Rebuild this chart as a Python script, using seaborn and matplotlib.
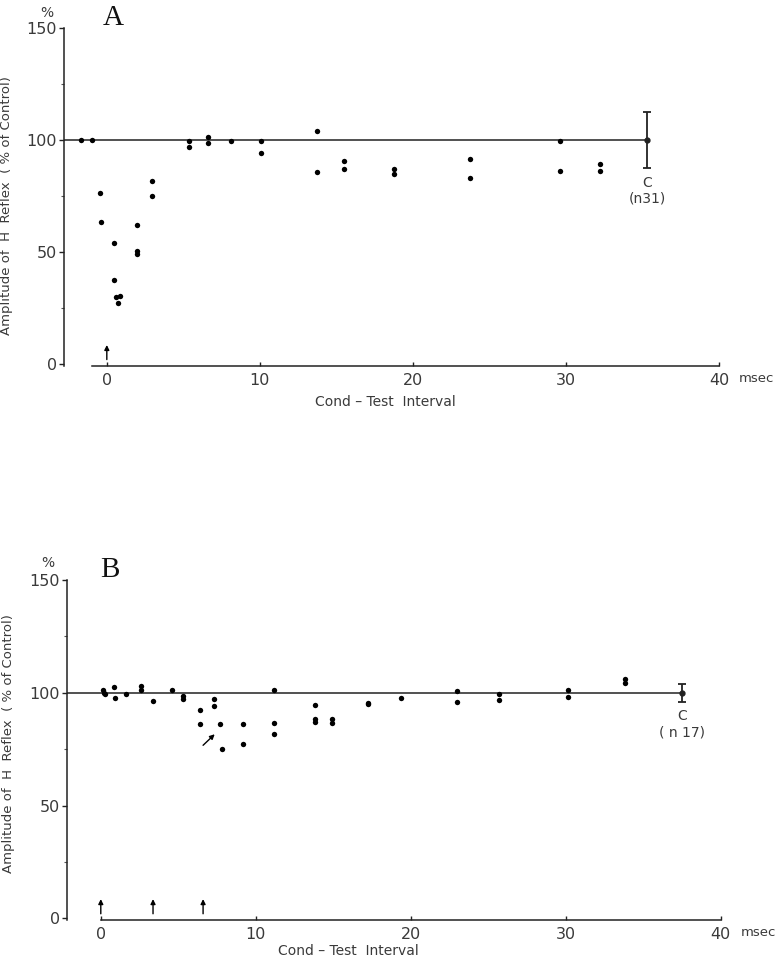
import seaborn as sns
import matplotlib.pyplot as plt
import numpy as np

# panel A : condition-test interval (msec) vs H reflex amplitude (% of control)
a_x = [-1.7, -1.0, -0.45, -0.4, 0.48, 0.5, 0.63, 0.85, 0.76, 2.0, 2.0, 2.0,
       2.95, 2.95, 5.35, 5.35, 6.6, 6.6, 8.1, 10.05, 10.05, 13.75, 13.75,
       15.5, 15.5, 18.75, 18.75, 23.7, 23.7, 29.6, 29.6, 32.2, 32.2]
a_y = [100, 100, 76.5, 63.5, 54, 37.5, 30, 30.4, 27.1, 62, 50.6, 49.2,
       81.8, 75, 99.7, 96.8, 101.5, 98.8, 99.6, 99.7, 94.3, 104, 85.7,
       90.6, 86.9, 86.9, 84.8, 91.5, 83, 99.7, 86.3, 89.3, 86]
a_ctrl = (35.3, 100, 12.5)
a_n = "(n31)"
a_arrows = [0]

# panel B
b_x = [0.15, 0.2, 0.25, 0.86, 0.9, 1.6, 2.6, 2.6, 3.37, 4.6, 5.3, 5.3,
       6.4, 6.4, 7.3, 7.3, 7.7, 7.8, 9.2, 9.15, 11.2, 11.2, 11.2,
       13.8, 13.8, 13.8, 14.9, 14.9, 17.25, 17.25, 19.35, 23.0, 23.0,
       25.7, 25.7, 30.15, 30.15, 33.8, 33.8]
b_y = [101, 100, 99.3, 102.7, 97.8, 99.6, 103.2, 101.2, 96.5, 101, 98.7, 97.3,
       92.4, 86, 97.4, 94.1, 86.2, 75, 86, 77.3, 101, 86.5, 81.7,
       94.6, 88.2, 87, 88.2, 86.7, 95.6, 94.9, 97.6, 100.9, 96,
       99.5, 96.8, 101.2, 98, 106.1, 104.2]
b_ctrl = (37.5, 100, 4)
b_n = "( n 17)"
b_arrows = [0, 3.37, 6.6]

yticks = [0, 50, 100, 150]
xticks = [0, 10, 20, 30, 40]

sns.set_style("ticks")
plt.rcParams['font.family'] = ['DejaVu Sans']
txt = '#3a3a3a'

fig = plt.figure(figsize=(7.82, 9.61), dpi=100)
axA = fig.add_axes([0.0818, 0.6191, 0.8376, 0.3517])
axB = fig.add_axes([0.0853, 0.0427, 0.8363, 0.3538])

arrow_style = dict(arrowstyle='-|>', lw=1, color='k', mutation_scale=7,
                   shrinkA=0, shrinkB=0)


def panel(ax, xs, ys, ctrl, ntext, arrows, xlim, ylim, xstart, ylab_xy, xlab_xy):
    ax.set_xlim(*xlim)
    ax.set_ylim(*ylim)
    sns.scatterplot(x=xs, y=ys, ax=ax, color='k', s=15, linewidth=0, zorder=3)
    cx, cy, ce = ctrl
    ax.hlines(100, xlim[0], cx, color='#222222', lw=1.1)
    ax.errorbar([cx], [cy], yerr=[ce], fmt='o', color='#222222', ms=3.5,
                capsize=3, elinewidth=1.3, capthick=1.3)
    ax.text(cx, cy - ce - 6.5, "C", ha='center', va='center', fontsize=10, color=txt)
    ax.text(cx, cy - ce - 13.5, ntext, ha='center', va='center', fontsize=10, color=txt)
    for ar in arrows:
        ax.annotate('', xy=(ar, 8.5), xytext=(ar, 2.0), arrowprops=arrow_style)

    sns.despine(ax=ax)
    ax.spines['bottom'].set_bounds(xstart, 40)
    ax.spines['left'].set_bounds(ylim[0], 150)
    for s in ['bottom', 'left']:
        ax.spines[s].set_linewidth(1.1)
        ax.spines[s].set_color('#222222')
    ax.set_xticks(xticks)
    ax.set_yticks(yticks)
    ax.set_yticks([25, 75, 125], minor=True)
    ax.tick_params(axis='x', direction='in', length=3, width=1, pad=5,
                   labelsize=11.5, labelcolor=txt, color='#222222')
    ax.tick_params(axis='y', which='major', direction='out', length=3.5, width=1,
                   pad=1.5, labelsize=11.5, labelcolor=txt, color='#222222')
    ax.tick_params(axis='y', which='minor', direction='out', length=2.5, width=0.8,
                   color='#555555')
    ax.set_ylabel("Amplitude of  H  Reflex  ( % of Control)", fontsize=9.5, color=txt)
    ax.yaxis.set_label_coords(*ylab_xy)
    ax.set_xlabel("Cond – Test  Interval", fontsize=10, color=txt)
    ax.xaxis.set_label_coords(*xlab_xy)
    ax.text(41.3, -6.5, "msec", ha='left', va='center', fontsize=9.5, color=txt,
            clip_on=False)


panel(axA, a_x, a_y, a_ctrl, a_n, a_arrows, (-2.8, 40), (-0.9, 150), -1,
      (-0.078, 0.476), (0.49, -0.085))
panel(axB, b_x, b_y, b_ctrl, b_n, b_arrows, (-2.2, 40), (-0.75, 150), 0,
      (-0.079, 0.52), (0.43, -0.072))

# small oblique arrow in B
axB.annotate('', xy=(7.35, 81.6), xytext=(6.6, 76.7), arrowprops=arrow_style)

fig.text(47 / 782, 1 - 13 / 961, "%", ha='center', va='center', fontsize=10, color=txt)
fig.text(48 / 782, 1 - 563 / 961, "%", ha='center', va='center', fontsize=10, color=txt)
fig.text(113 / 782, 1 - 18 / 961, "A", ha='center', va='center', fontsize=21,
         family='Liberation Serif', color='#111111')
fig.text(110 / 782, 1 - 570 / 961, "B", ha='center', va='center', fontsize=21,
         family='Liberation Serif', color='#111111')

fig.savefig("out.png", dpi=100, facecolor='white')
